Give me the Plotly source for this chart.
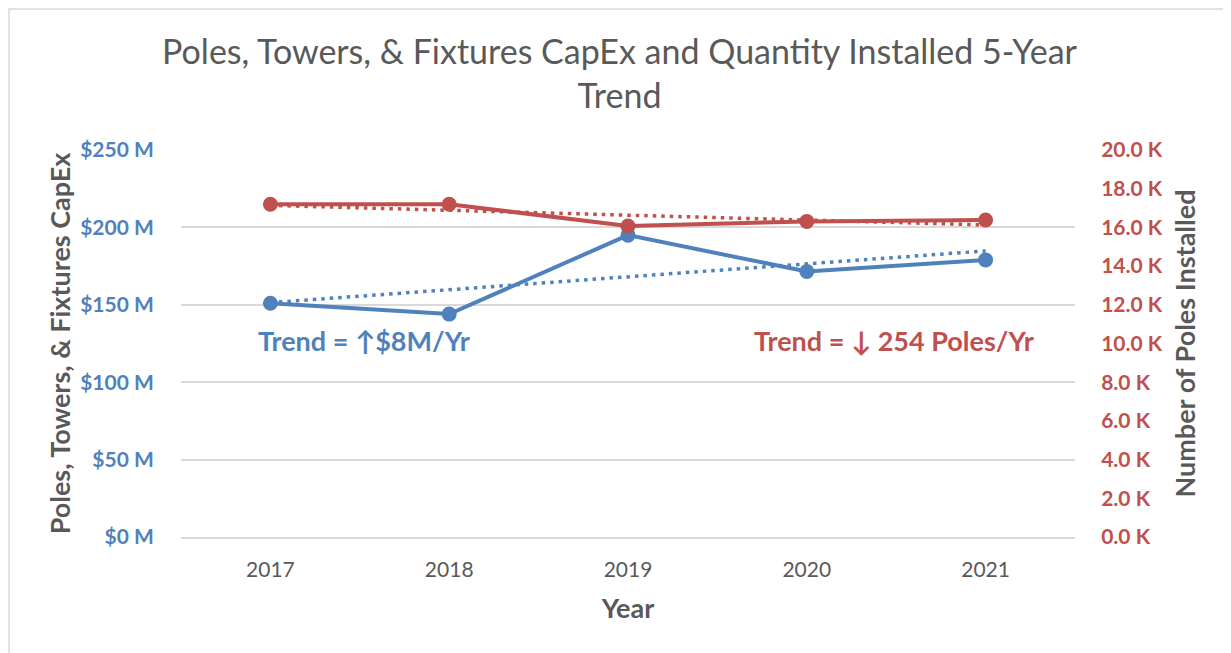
import numpy as np
import plotly.graph_objects as go

years = ["2017", "2018", "2019", "2020", "2021"]
capex_musd = [151.0, 144.0, 195.0, 171.5, 179.0]
poles_k = [17.2, 17.2, 16.07, 16.31, 16.38]

left_ticks = [0, 50, 100, 150, 200, 250]
left_labels = ["$0 M", "$50 M", "$100 M", "$150 M", "$200 M", "$250 M"]
right_ticks = [0, 2, 4, 6, 8, 10, 12, 14, 16, 18, 20]
right_labels = ["%.1f K" % v for v in right_ticks]

BLUE = "#4F81BD"
RED = "#C0504D"
GREY = "#595959"
FONT = "Lato"

W, H = 1223, 645
L, R, T, B = 173, 156, 142, 116
PW, PH = W - L - R, H - T - B

xi = np.arange(len(years))
bc = np.polyfit(xi, capex_musd, 1)
rc = np.polyfit(xi, poles_k, 1)
capex_trend = np.polyval(bc, xi)
poles_trend = np.polyval(rc, xi)

DOT = "3.5px,5px"
fig = go.Figure()
fig.add_trace(go.Scatter(x=xi, y=capex_trend, mode="lines",
                         line=dict(color=BLUE, width=3.5, dash=DOT), yaxis="y"))
fig.add_trace(go.Scatter(x=xi, y=capex_musd, mode="lines+markers",
                         line=dict(color=BLUE, width=4),
                         marker=dict(size=15, color=BLUE), yaxis="y"))
fig.add_trace(go.Scatter(x=xi, y=poles_trend, mode="lines",
                         line=dict(color=RED, width=3.5, dash=DOT), yaxis="y2"))
fig.add_trace(go.Scatter(x=xi, y=poles_k, mode="lines+markers",
                         line=dict(color=RED, width=4),
                         marker=dict(size=15, color=RED), yaxis="y2"))

fig.update_layout(
    width=W, height=H,
    paper_bgcolor="white", plot_bgcolor="white",
    showlegend=False,
    margin=dict(l=L, r=R, t=T, b=B),
    title=dict(text="Poles, Towers, & Fixtures CapEx and Quantity Installed 5-Year<br>Trend",
               x=0.5, xanchor="center", y=1 - 56 / H, yanchor="top",
               font=dict(family=FONT, size=34, color=GREY)),
    xaxis=dict(tickmode="array", tickvals=list(xi), ticktext=years,
               range=[-0.5, 4.5], showgrid=False, zeroline=False,
               showline=True, linecolor="#D9D9D9", linewidth=1.5,
               ticks="outside", ticklen=13, tickcolor="rgba(0,0,0,0)",
               tickfont=dict(family=FONT, size=21, color=GREY),
               title=dict(text="<b>Year</b>", standoff=19,
                          font=dict(family=FONT, size=27, color=GREY))),
    yaxis=dict(range=[0, 250], tickmode="array", tickvals=left_ticks, ticktext=left_labels,
               showgrid=True, gridcolor="#D9D9D9", gridwidth=1.5, zeroline=False,
               ticks="outside", ticklen=22, tickcolor="rgba(0,0,0,0)",
               tickfont=dict(family=FONT, size=21, color=BLUE, weight="bold"),
               title=dict(text="<b>Poles, Towers, & Fixtures CapEx</b>", standoff=1,
                          font=dict(family=FONT, size=27, color=GREY))),
    yaxis2=dict(range=[0, 20], overlaying="y", side="right", tickmode="array",
                tickvals=right_ticks, ticktext=right_labels,
                showgrid=False, zeroline=False,
                ticks="outside", ticklen=21, tickcolor="rgba(0,0,0,0)",
                tickfont=dict(family=FONT, size=21, color=RED, weight="bold"),
                title=dict(text="<b>Number of Poles Installed</b>", standoff=14,
                           font=dict(family=FONT, size=27, color=GREY))),
    annotations=[
        dict(text="<b>Trend = ↑$8M/Yr</b>", x=0.525, y=127, xref="x", yref="y",
             xanchor="center", yanchor="middle", showarrow=False,
             font=dict(family=FONT, size=27, color=BLUE)),
        dict(text="<b>Trend = ↓ 254 Poles/Yr</b>", x=3.49, y=127, xref="x", yref="y",
             xanchor="center", yanchor="middle", showarrow=False,
             font=dict(family=FONT, size=27, color=RED)),
    ],
    shapes=[dict(type="rect", xref="paper", yref="paper",
                 x0=(1 - L) / PW, x1=1 + (R + 20) / PW,
                 y0=-(B + 20) / PH, y1=1 + (T - 1) / PH,
                 line=dict(color="#D9D9D9", width=1.5), fillcolor="rgba(0,0,0,0)",
                 layer="below")],
)

fig.write_html("out.html")
